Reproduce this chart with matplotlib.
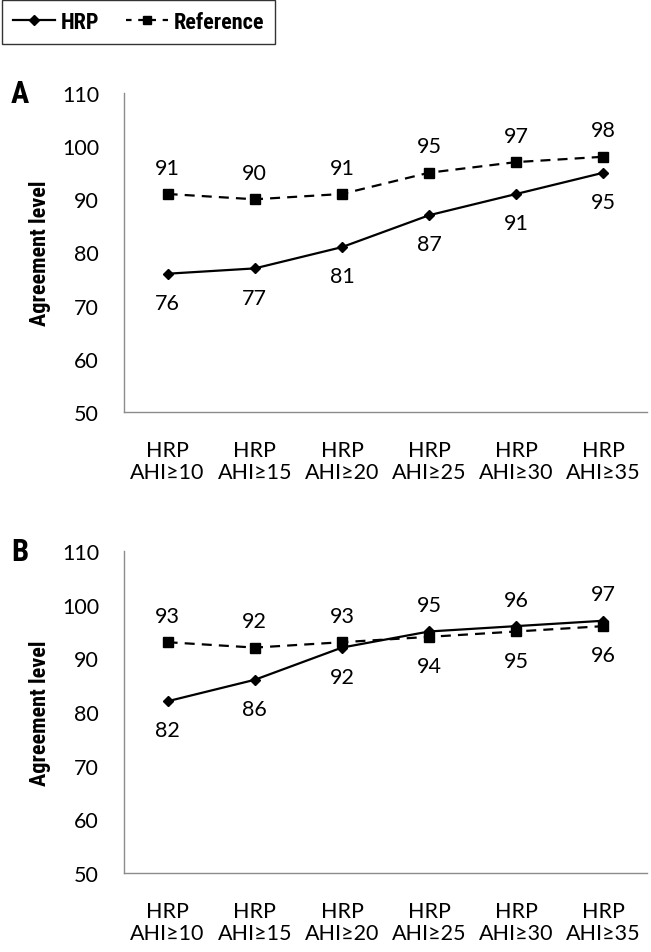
"""
Agreement level of HRP vs reference, two panels.
"""
import matplotlib
matplotlib.use('Agg')
import matplotlib.pyplot as plt
from matplotlib import font_manager
from matplotlib.lines import Line2D

categories = ['HRP\nAHI\u226510', 'HRP\nAHI\u226515', 'HRP\nAHI\u226520',
              'HRP\nAHI\u226525', 'HRP\nAHI\u226530', 'HRP\nAHI\u226535']
y_ticks = [50, 60, 70, 80, 90, 100, 110]

# panel A
hrp_a = [76, 77, 81, 87, 91, 95]
ref_a = [91, 90, 91, 95, 97, 98]
# panel B
hrp_b = [82, 86, 92, 95, 96, 97]
ref_b = [93, 92, 93, 94, 95, 96]
# label side: +1 above, -1 below
hrp_b_side = [-1, -1, -1, 1, 1, 1]
ref_b_side = [1, 1, 1, -1, -1, -1]

installed = sorted(set(f.name for f in font_manager.fontManager.ttflist))


def pick(cands):
    found = [c for c in cands if c in installed]
    return found + ['DejaVu Sans']


TICK_FONT = pick(['Lato', 'Noto Sans'])
BOLD_FONT = pick(['Liberation Sans Narrow', 'Roboto Condensed',
                  'DejaVu Sans Condensed'])


def draw_panel(ax, letter, hrp, ref, hrp_side, ref_side):
    x = list(range(len(categories)))
    ax.plot(x, hrp, color='black', lw=1.6, marker='D', markersize=5.5,
            markerfacecolor='black', zorder=3)
    ax.plot(x, ref, color='black', lw=1.6, ls=(0, (4.5, 3.2)), marker='s',
            markersize=6.5, markerfacecolor='black', zorder=3)
    for vals, sides in [(hrp, hrp_side), (ref, ref_side)]:
        for xi, val, side in zip(x, vals, sides):
            off = 19 if side > 0 else -21
            ax.annotate(str(val), (xi, val), xytext=(0, off),
                        textcoords='offset points', ha='center', va='center',
                        fontsize=15.5, family=TICK_FONT)
    ax.set_xlim(-0.5, len(categories) - 0.5)
    ax.set_ylim(50, 110)
    ax.set_yticks(y_ticks)
    ax.set_xticks(x)
    ax.set_xticklabels(categories, family=TICK_FONT, fontsize=15.5,
                       linespacing=1.15)
    for lab in ax.get_yticklabels():
        lab.set_family(TICK_FONT)
        lab.set_fontsize(15.5)
    ax.tick_params(axis='y', length=0, pad=18)
    ax.tick_params(axis='x', length=0, pad=20)
    for s in ['top', 'right']:
        ax.spines[s].set_visible(False)
    for s in ['left', 'bottom']:
        ax.spines[s].set_color('#8c8c8c')
        ax.spines[s].set_linewidth(1.0)
    ax.set_ylabel('Agreement level', family=BOLD_FONT, fontweight='bold',
                  fontsize=16, labelpad=8)
    ax.text(-0.2, 1.0, letter, transform=ax.transAxes, family=BOLD_FONT,
            fontweight='bold', fontsize=22, ha='center', va='center')


fig = plt.figure(figsize=(6.51, 9.53), dpi=100)
ax_a = fig.add_axes([0.1905, 0.5667, 0.8034, 0.3347])
ax_b = fig.add_axes([0.1905, 0.0829, 0.8034, 0.3379])

draw_panel(ax_a, 'A', hrp_a, ref_a, [-1] * 6, [1] * 6)
draw_panel(ax_b, 'B', hrp_b, ref_b, hrp_b_side, ref_b_side)

handles = [Line2D([], [], color='black', lw=1.6, marker='D', markersize=5.5),
           Line2D([], [], color='black', lw=1.6, ls=(0, (2.5, 3)), marker='s',
                  markersize=6)]
leg = fig.legend(handles, ['HRP', 'Reference'], loc='upper left',
                 bbox_to_anchor=(0.003, 0.999), ncol=2, frameon=True,
                 fancybox=False, handlelength=1.9, columnspacing=1.2,
                 borderpad=0.5, handletextpad=0.25, borderaxespad=0.0,
                 prop={'family': BOLD_FONT, 'weight': 'bold', 'size': 16})
leg.get_frame().set_edgecolor('black')
leg.get_frame().set_linewidth(1.0)

plt.savefig('out.png', dpi=100)
